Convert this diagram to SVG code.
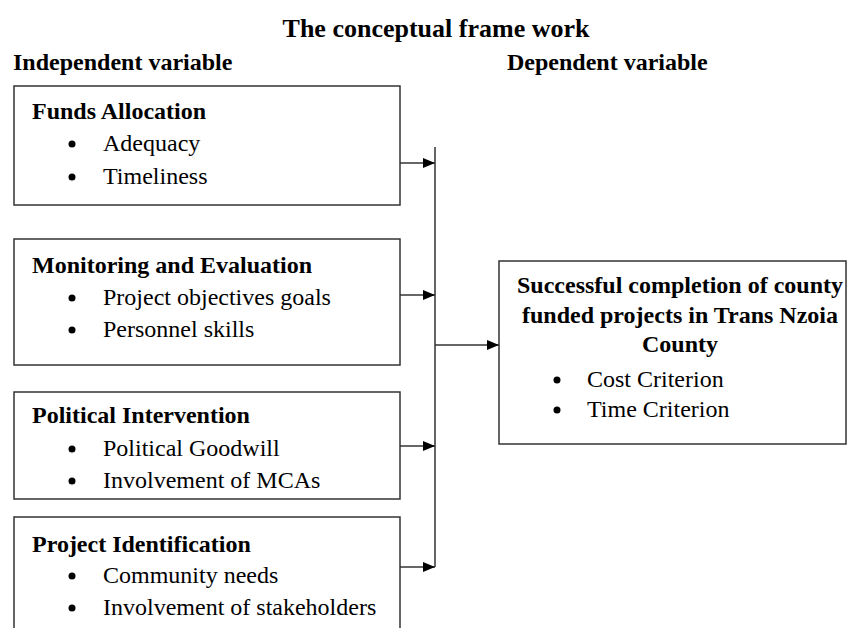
<svg xmlns="http://www.w3.org/2000/svg" width="847" height="628" viewBox="0 0 847 628">
<style>
text{font-family:"Times New Roman",Times,serif;fill:#000}
.t{font-size:26px;font-weight:bold}
.h{font-size:24px;font-weight:bold}
.b{font-size:24px}
.box{fill:#fff;stroke:#333;stroke-width:1.5}
.c{stroke:#333;stroke-width:1.5;fill:none}
</style>
<defs>
<marker id="ah" markerWidth="12" markerHeight="10" refX="12" refY="5" orient="auto" markerUnits="userSpaceOnUse">
<path d="M0,0 L12,5 L0,10 Z" fill="#000"/>
</marker>
</defs>
<rect width="847" height="628" fill="#fff"/>
<text class="t" x="436" y="37" text-anchor="middle">The conceptual frame work</text>
<text class="h" x="13" y="70">Independent variable</text>
<text class="h" x="507" y="70">Dependent variable</text>

<g id="funds">
<rect class="box" x="14" y="86" width="386" height="119"/>
<text class="h" x="32" y="119">Funds Allocation</text>
<circle cx="72" cy="144" r="3.5"/>
<text class="b" x="103" y="151">Adequacy</text>
<circle cx="72" cy="177" r="3.5"/>
<text class="b" x="103" y="184">Timeliness</text>
</g>

<g id="monitoring">
<rect class="box" x="14" y="239" width="386" height="126"/>
<text class="h" x="32" y="273">Monitoring and Evaluation</text>
<circle cx="72" cy="298" r="3.5"/>
<text class="b" x="103" y="305">Project objectives goals</text>
<circle cx="72" cy="330" r="3.5"/>
<text class="b" x="103" y="337">Personnel skills</text>
</g>

<g id="political">
<rect class="box" x="14" y="392" width="386" height="107"/>
<text class="h" x="32" y="423">Political Intervention</text>
<circle cx="72" cy="449" r="3.5"/>
<text class="b" x="103" y="456">Political Goodwill</text>
<circle cx="72" cy="481" r="3.5"/>
<text class="b" x="103" y="488">Involvement of MCAs</text>
</g>

<g id="identification">
<rect class="box" x="14" y="517" width="386" height="130"/>
<text class="h" x="32" y="552">Project Identification</text>
<circle cx="72" cy="576" r="3.5"/>
<text class="b" x="103" y="583">Community needs</text>
<circle cx="72" cy="608" r="3.5"/>
<text class="b" x="103" y="615">Involvement of stakeholders</text>
</g>

<g id="outcome">
<rect class="box" x="499" y="261" width="347" height="183"/>
<text class="h" x="680" y="293" text-anchor="middle">Successful completion of county</text>
<text class="h" x="680" y="323" text-anchor="middle">funded projects in Trans Nzoia</text>
<text class="h" x="680" y="352" text-anchor="middle">County</text>
<circle cx="557" cy="380" r="3.5"/>
<text class="b" x="587" y="387">Cost Criterion</text>
<circle cx="557" cy="410" r="3.5"/>
<text class="b" x="587" y="417">Time Criterion</text>
</g>

<g id="connectors">
<line class="c" x1="435" y1="147" x2="435" y2="567"/>
<line class="c" x1="400" y1="163" x2="435" y2="163" marker-end="url(#ah)"/>
<line class="c" x1="400" y1="295" x2="435" y2="295" marker-end="url(#ah)"/>
<line class="c" x1="400" y1="446" x2="435" y2="446" marker-end="url(#ah)"/>
<line class="c" x1="400" y1="567" x2="435" y2="567" marker-end="url(#ah)"/>
<line class="c" x1="435" y1="345" x2="499" y2="345" marker-end="url(#ah)"/>
</g>
</svg>
